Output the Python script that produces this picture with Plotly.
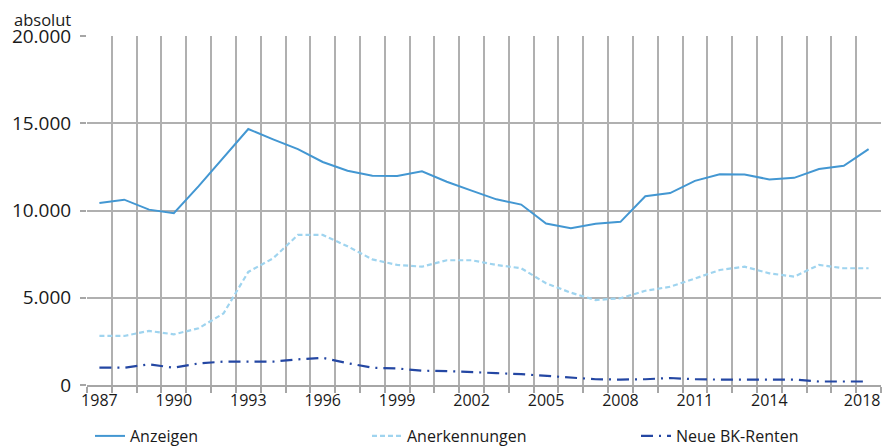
import plotly.graph_objects as go

years = list(range(1987, 2019))
anzeigen = [10430, 10620, 10050, 9850, 11400, 13050, 14670, 14080, 13520, 12780,
            12280, 11990, 11980, 12250, 11650, 11140, 10640, 10340, 9250, 8980,
            9240, 9350, 10820, 11000, 11700, 12080, 12060, 11780, 11870, 12380,
            12560, 13520]
anerkennungen = [2810, 2810, 3100, 2900, 3250, 4100, 6480, 7260, 8600, 8600,
                 7950, 7200, 6880, 6780, 7150, 7150, 6880, 6690, 5830, 5290,
                 4870, 4970, 5400, 5630, 6100, 6590, 6780, 6400, 6210, 6880,
                 6690, 6690]
renten = [990, 990, 1185, 990, 1240, 1340, 1340, 1340, 1470, 1560,
          1250, 990, 950, 820, 800, 720, 680, 620, 520, 430,
          330, 310, 330, 400, 330, 310, 310, 310, 310, 200,
          200, 200]
label_years = [1987, 1990, 1993, 1996, 1999, 2002, 2005, 2008, 2011, 2014, 2018]
y_ticks = [0, 5000, 10000, 15000, 20000]

font = "Open Sans"
W, H = 878, 438  # page has 8px body margin
fig = go.Figure()
fig.add_trace(go.Scatter(x=years, y=anzeigen, name="Anzeigen", mode="lines",
                         line=dict(color="#4397d2", width=2), legend="legend"))
fig.add_trace(go.Scatter(x=years, y=anerkennungen, name="Anerkennungen", mode="lines",
                         line=dict(color="#9fd4ef", width=2.2, dash="5px,3px"),
                         legend="legend2"))
fig.add_trace(go.Scatter(x=years, y=renten, name="Neue BK-Renten", mode="lines",
                         line=dict(color="#2447a3", width=2.2, dash="12px,6px,2px,6px"),
                         legend="legend3"))

leg = dict(orientation="h", xref="container", yref="container",
           xanchor="left", yanchor="middle", y=10 / H,
           font=dict(size=16, family=font, color="#1a1a1a"), bgcolor="rgba(0,0,0,0)")
fig.update_layout(
    width=W, height=H,
    margin=dict(l=79, r=5, t=28, b=61, autoexpand=False),
    paper_bgcolor="white", plot_bgcolor="white",
    separators=",.",
    font=dict(family=font, size=16, color="#1a1a1a"),
    showlegend=True,
    legend=dict(leg, x=82 / W),
    legend2=dict(leg, x=359 / W),
    legend3=dict(leg, x=628 / W),
    annotations=[dict(text="absolut", xref="paper", yref="paper",
                      x=(4 - 79) / 794, y=(377 - 11) / 349,
                      xanchor="left", yanchor="middle", showarrow=False,
                      font=dict(size=16.5, family=font, color="#1a1a1a"))],
)
label_pos = [y if y != 2018 else y - 0.26 for y in label_years]
fig.update_xaxes(
    range=[1986.5, 2018.5], tickmode="array", tickvals=label_pos,
    ticktext=[str(y) for y in label_years], showgrid=False, ticks="",
    tickfont=dict(size=16), showline=True, linecolor="#a6a6a6", linewidth=1.5,
    zeroline=False, ticklabeloverflow="allow",
    minor=dict(tickmode="array", tickvals=[y - 0.5 for y in years] + [2018.5],
               showgrid=True, gridcolor="#b0b0b0", gridwidth=1.5,
               ticks="outside", ticklen=6, tickcolor="#a6a6a6", tickwidth=1.5),
)
fig.update_yaxes(
    range=[0, 20000], tickmode="array", tickvals=y_ticks,
    ticktext=[f"{v:,}".replace(",", ".") for v in y_ticks],
    showgrid=True, gridcolor="#b0b0b0", gridwidth=1.5, zeroline=False,
    ticks="outside", ticklen=6, tickcolor="#a6a6a6", tickwidth=1.5,
    tickfont=dict(size=19), showline=False, ticklabelstandoff=5,
)
fig.write_html("out.html")
